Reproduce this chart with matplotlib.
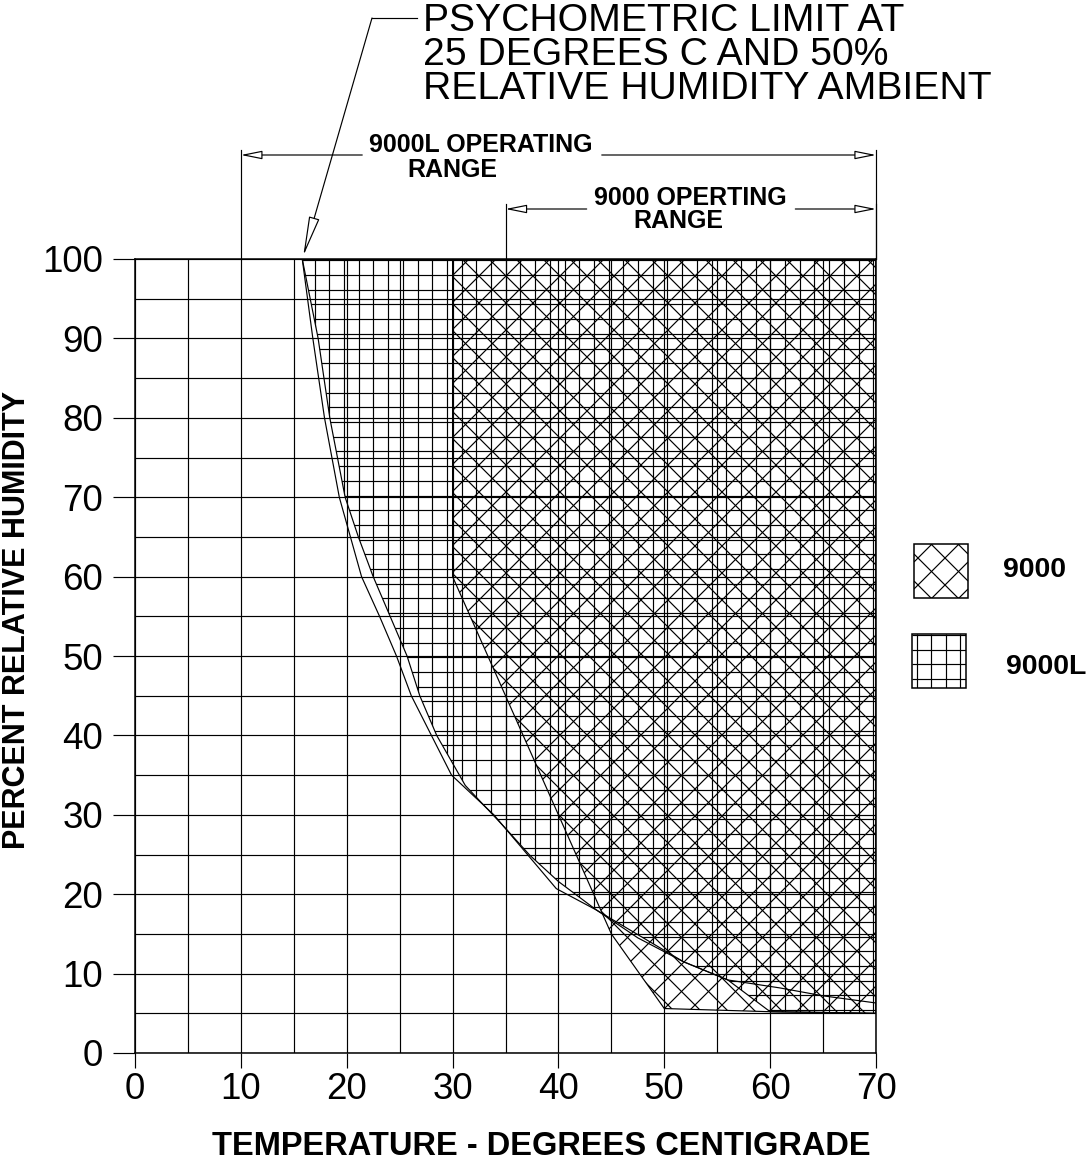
import numpy as np
import matplotlib
matplotlib.use("Agg")
import matplotlib.pyplot as plt
from matplotlib import font_manager as fm
from matplotlib.patches import Polygon, Rectangle, FancyArrowPatch
from matplotlib.collections import LineCollection

# ------------------------------------------------------------------ data
temp_major = [0, 10, 20, 30, 40, 50, 60, 70]
temp_minor = [0, 5, 10, 15, 20, 25, 30, 35, 40, 45, 50, 55, 60, 65, 70]
rh_major = [0, 10, 20, 30, 40, 50, 60, 70, 80, 90, 100]
rh_minor = [0, 5, 10, 15, 20, 25, 30, 35, 40, 45, 50, 55, 60, 65, 70, 75,
            80, 85, 90, 95, 100]

# psychrometric limit curve (left curve)
psy_t = [15.8, 16.8, 17.9, 19.3, 21.4, 23.1, 24.7, 26.1, 28.0, 29.9, 33.9,
         39.8, 43.6, 47.5, 51.8, 56.0, 60.9, 65.0, 70.0]
psy_rh = [100, 90, 80, 70, 60, 55, 50, 45, 40, 35, 30,
          20.7, 18.0, 14.5, 11.5, 9.2, 8.2, 7.2, 6.3]

# 9000L operating-region boundary (lower/left edge)
l_t = [15.8, 17.3, 18.4, 19.85, 21.1, 22.5, 24.1, 25.7, 26.9, 28.5, 31.2,
       35.0, 37.3, 40.0, 43.6, 51.8, 56.0, 60.0, 70.0]
l_rh = [100, 90, 80, 70, 65, 60, 55, 50, 45, 40, 33.7,
        28.3, 24.9, 21.6, 18.0, 11.5, 9.2, 5.2, 5.0]

# 9000 operating-region outline
s_t = [30, 70, 70, 60, 50, 45, 30]
s_rh = [100, 100, 5.0, 5.2, 5.6, 15, 60]

range_9000L = [10, 70]
range_9000 = [35, 70]
psy_tip = (15.8, 100)

title_lines = ["PSYCHOMETRIC LIMIT AT", "25 DEGREES C AND 50%",
               "RELATIVE HUMIDITY AMBIENT"]
dim_9000L = ["9000L OPERATING", "RANGE"]
dim_9000 = ["9000 OPERTING", "RANGE"]
legend_labels = ["9000", "9000L"]
xlabel = "TEMPERATURE - DEGREES CENTIGRADE"
ylabel = "PERCENT RELATIVE HUMIDITY"

# ------------------------------------------------------------------ setup
W, H, DPI = 1090, 1160, 100
PT = 72.0 / DPI  # points per pixel
plt.rcParams['font.family'] = ['Liberation Sans', 'DejaVu Sans']


def has_font(name):
    try:
        fm.findfont(fm.FontProperties(family=name), fallback_to_default=False)
        return True
    except Exception:
        return False


if has_font('Liberation Sans Narrow'):
    TICK_FONT = dict(family=['Liberation Sans Narrow', 'Liberation Sans'], size=28)
else:
    TICK_FONT = dict(family=['Liberation Sans', 'DejaVu Sans'], size=26.5)

fig = plt.figure(figsize=(W / DPI, H / DPI), dpi=DPI)
fig.patch.set_facecolor('white')

AX_L, AX_R, AX_T, AX_B = 135, 876, 259, 1053
ax = fig.add_axes([AX_L / W, (H - AX_B) / H, (AX_R - AX_L) / W, (AX_B - AX_T) / H])
ax.set_xlim(temp_major[0], temp_major[-1])
ax.set_ylim(rh_major[0], rh_major[-1])
ax.set_facecolor('none')

LW = 0.85
ax.set_xticks(temp_major)
ax.set_xticks(temp_minor, minor=True)
ax.set_yticks(rh_major)
ax.set_yticks(rh_minor, minor=True)
ax.set_xticklabels([str(v) for v in temp_major], fontfamily=TICK_FONT['family'],
                   fontsize=TICK_FONT['size'])
ax.set_yticklabels([str(v) for v in rh_major], fontfamily=TICK_FONT['family'],
                   fontsize=TICK_FONT['size'])
ax.grid(which='both', color='black', linewidth=LW)
ax.tick_params(which='minor', length=0)
ax.tick_params(axis='x', which='major', length=15 * PT, width=LW, pad=4 * PT,
               direction='out')
ax.tick_params(axis='y', which='major', length=22 * PT, width=LW, pad=10 * PT,
               direction='out')
for sp in ax.spines.values():
    sp.set_linewidth(1.1)
    sp.set_color('black')

# overlay axes in figure pixels (origin top-left)
axo = fig.add_axes([0, 0, 1, 1], zorder=5)
axo.set_xlim(0, W)
axo.set_ylim(H, 0)
axo.axis('off')
axo.patch.set_visible(False)


def data_px(x, y):
    dx, dy = ax.transData.transform((x, y))
    return dx, H - dy


def add_hatch(target, patch, kind, step, phase=(0.0, 0.0), lw=LW):
    target.add_patch(patch)
    verts = np.asarray(patch.get_verts())  # display pixels
    x0, y0 = verts.min(axis=0)
    x1, y1 = verts.max(axis=0)
    segs = []
    if kind == 'grid':
        xs = np.arange(np.floor((x0 - phase[0]) / step) * step + phase[0], x1 + step, step)
        for x in xs:
            segs.append([(x, y0), (x, y1)])
        ys = np.arange(np.floor((y0 - phase[1]) / step) * step + phase[1], y1 + step, step)
        for y in ys:
            segs.append([(x0, y), (x1, y)])
    else:
        cs = np.arange(np.floor((y0 - x1 - phase[0]) / step) * step + phase[0], y1 - x0 + step, step)
        for c in cs:
            segs.append([(x0, x0 + c), (x1, x1 + c)])
        cs = np.arange(np.floor((x0 + y0 - phase[1]) / step) * step + phase[1], x1 + y1 + step, step)
        for c in cs:
            segs.append([(x0, c - x0), (x1, c - x1)])
    inv = target.transData.inverted()
    segs_d = [inv.transform(np.array(s)) for s in segs]
    lc = LineCollection(segs_d, colors='black', linewidths=lw, zorder=3)
    target.add_collection(lc, autolim=False)
    lc.set_clip_path(patch)


# ------------------------------------------------------------------ regions
poly_L = Polygon(np.column_stack([l_t + [temp_major[-1]], l_rh + [rh_major[-1]]]),
                 closed=True, fill=False, edgecolor='black', linewidth=LW, zorder=4)
add_hatch(ax, poly_L, 'grid', 14.7, phase=(6.0, 3.0))

poly_S = Polygon(np.column_stack([s_t, s_rh]), closed=True, fill=False,
                 edgecolor='black', linewidth=LW, zorder=4)
add_hatch(ax, poly_S, 'cross', 27.0, phase=(0.0, 13.0))

ax.plot(psy_t, psy_rh, color='black', linewidth=LW, zorder=4)

# ------------------------------------------------------------------ text: axis labels
fig.text(541 / W, 1 - 1155 / H, xlabel, ha='center', va='baseline', fontsize=23.5,
         fontweight='bold')
fig.text(17 / W, 1 - 620 / H, ylabel, ha='center', va='center', rotation=90,
         fontsize=22, fontweight='bold')

# ------------------------------------------------------------------ title + leader
for i, line in enumerate(title_lines):
    axo.text(423, 31 + 34 * i, line, ha='left', va='baseline', fontsize=28.2)
tip_x, tip_y = data_px(*psy_tip)
axo.plot([372, 417], [18, 18], color='black', linewidth=LW)
axo.add_patch(FancyArrowPatch((372, 18), (tip_x + 1, tip_y - 3),
                              arrowstyle='-|>,head_length=1.25,head_width=0.17',
                              mutation_scale=20, edgecolor='black', facecolor='white',
                              linewidth=LW, shrinkA=0, shrinkB=0))

# ------------------------------------------------------------------ dimension lines
renderer = fig.canvas.get_renderer()


def dimension(rng, lines, line_y, base1, cx1, base2, cx2, ext_top):
    xa, _ = data_px(rng[0], rh_major[-1])
    xb, top = data_px(rng[1], rh_major[-1])
    t1 = axo.text(cx1, base1, lines[0], ha='center', va='baseline', fontsize=18,
                  fontweight='bold')
    axo.text(cx2, base2, lines[1], ha='center', va='baseline', fontsize=18,
             fontweight='bold')
    bb = t1.get_window_extent(renderer)
    gl, gr = bb.x0 - 7, bb.x1 + 9
    for x in (xa, xb):
        axo.plot([x, x], [top, ext_top], color='black', linewidth=LW)
    for a, b in ((gl, xa), (gr, xb)):
        axo.add_patch(FancyArrowPatch((a, line_y), (b, line_y),
                                      arrowstyle='-|>,head_length=0.65,head_width=0.13',
                                      mutation_scale=20, edgecolor='black', facecolor='white',
                                      linewidth=LW, shrinkA=0, shrinkB=0))


dimension(range_9000L, dim_9000L, 155, 152, 481, 177, 452, 150)
dimension(range_9000, dim_9000, 209, 205, 690, 228, 678, 204)

# ------------------------------------------------------------------ legend
box_S = Rectangle((914, 544), 54, 54, fill=False, edgecolor='black', linewidth=1.1, zorder=4)
add_hatch(axo, box_S, 'cross', 27.0, phase=(8.0, 8.0))
box_L = Rectangle((912, 634), 54, 54, fill=False, edgecolor='black', linewidth=1.1, zorder=4)
add_hatch(axo, box_L, 'grid', 14.5, phase=(3.0, 3.0))
axo.text(1003, 570, legend_labels[0], ha='left', va='center', fontsize=20.5, fontweight='bold')
axo.text(1006, 667, legend_labels[1], ha='left', va='center', fontsize=20.5, fontweight='bold')

fig.savefig('out.png', dpi=DPI, facecolor='white')
